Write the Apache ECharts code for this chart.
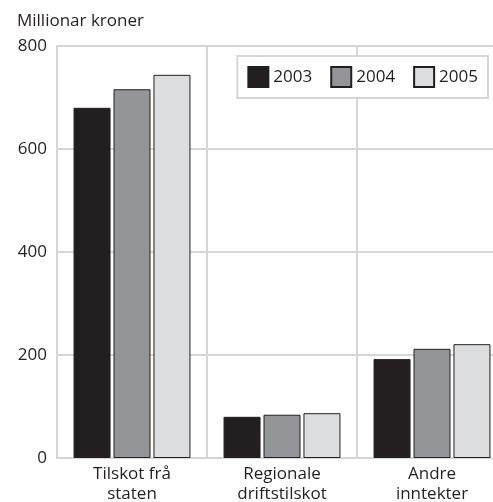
<!DOCTYPE html>
<html>
<head>
<meta charset="utf-8">
<script src="https://cdn.jsdelivr.net/npm/echarts@6/dist/echarts.min.js"></script>
<style>
html,body{margin:0;padding:0;background:#fff;}
#chart{width:493px;height:502px;}
</style>
</head>
<body>
<div id="chart"></div>
<script>
const categories = ['Tilskot frå\nstaten', 'Regionale\ndriftstilskot', 'Andre\ninntekter'];
const seriesNames = ['2003', '2004', '2005'];
const values2003 = [680, 80, 192];
const values2004 = [716, 84, 212];
const values2005 = [744, 87, 221];
const yTicks = { min: 0, max: 800, interval: 200 };
const unitLabel = 'Millionar kroner';

const colors = ['#231f20', '#939598', '#dcdddf'];
const FONT = '"Open Sans", "Noto Sans", sans-serif';
const GRID = '#d6d6d6';

const chart = echarts.init(document.getElementById('chart'));
const allValues = [values2003, values2004, values2005];
chart.setOption({
  animation: false,
  backgroundColor: '#ffffff',
  textStyle: { fontFamily: FONT },
  title: {
    text: unitLabel,
    left: 12, top: 8,
    textStyle: { fontFamily: FONT, fontSize: 17, fontWeight: 'normal', color: '#231f20' }
  },
  legend: {
    data: seriesNames,
    right: 5, top: 56,
    orient: 'horizontal',
    itemWidth: 20, itemHeight: 20, itemGap: 18,
    padding: [10, 10, 10, 10],
    borderColor: GRID, borderWidth: 2,
    backgroundColor: '#ffffff',
    icon: 'rect',
    textStyle: { fontFamily: FONT, fontSize: 17, color: '#231f20' }
  },
  grid: { left: 57, top: 46, right: -14, bottom: 44, containLabel: false, outerBoundsMode: 'none' },
  xAxis: {
    type: 'category',
    data: categories,
    boundaryGap: true,
    axisLine: { show: true, lineStyle: { color: GRID, width: 2 } },
    axisTick: { show: false },
    splitLine: { show: true, interval: 0, lineStyle: { color: GRID, width: 2 } },
    axisLabel: { fontFamily: FONT, fontSize: 17, color: '#231f20', lineHeight: 20, margin: 6, interval: 0 }
  },
  yAxis: {
    type: 'value',
    min: yTicks.min, max: yTicks.max, interval: yTicks.interval,
    axisLine: { show: true, lineStyle: { color: GRID, width: 2 } },
    axisTick: { show: false },
    splitLine: { show: true, lineStyle: { color: GRID, width: 2 } },
    axisLabel: { fontFamily: FONT, fontSize: 17, color: '#231f20', margin: 10 }
  },
  series: seriesNames.map((name, i) => ({
    name: name,
    type: 'bar',
    data: allValues[i],
    barWidth: 37,
    barGap: '8%',
    itemStyle: { color: colors[i], borderColor: '#231f20', borderWidth: 1 }
  }))
});
</script>
</body>
</html>
